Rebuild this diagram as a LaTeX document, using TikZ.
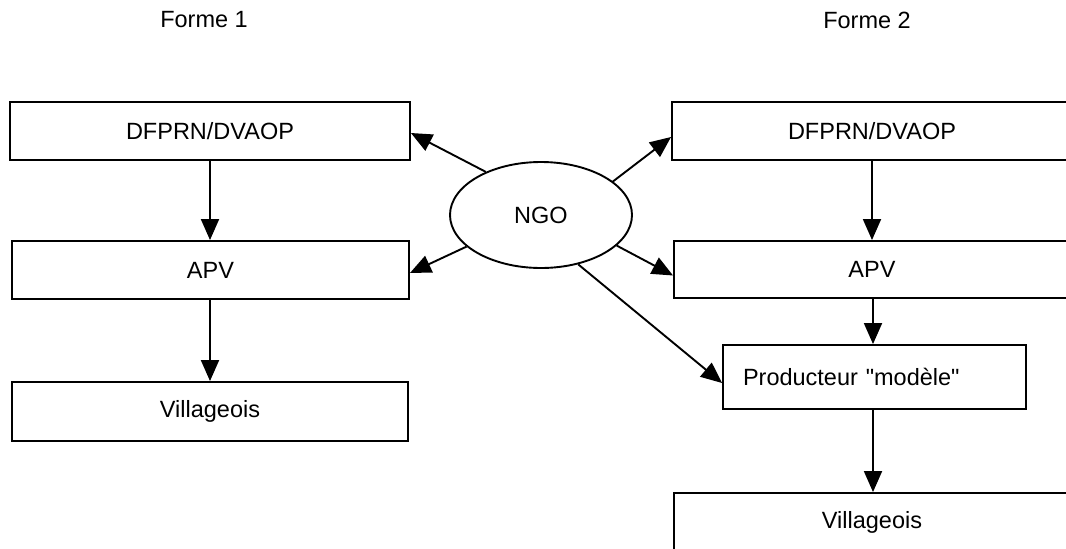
\documentclass[tikz,border=0pt]{standalone}
\usepackage{fontspec}
\setmainfont{Liberation Sans}[Ligatures=TeXOff]
\usetikzlibrary{arrows.meta,shapes.geometric}
\begin{document}
\begin{tikzpicture}[x=1pt,y=-1pt,
  every node/.style={font=\fontsize{23.5}{28}\selectfont},
  box/.style={draw=black,line width=1.9pt,rectangle,inner sep=0pt},
  oval/.style={draw=black,line width=1.9pt,ellipse,inner sep=0pt,minimum width=182pt,minimum height=106pt},
  arr/.style={line width=1.9pt,-{Triangle[length=21pt,width=18pt]}}]
\useasboundingbox (0,0) rectangle (1066,549);
\clip (0,0) rectangle (1066,549);
\fill[white] (0,0) rectangle (1066,549);
% titles
\node (f1) at (204,20) {Forme 1};
\node (f2) at (867,20) {Forme 2};
% left column
\node[box,minimum width=400pt,minimum height=58pt] (ld) at (210,131) {DFPRN/DVAOP};
\node[box,minimum width=397pt,minimum height=58pt] (la) at (210.5,270) {APV};
\node[box,minimum width=396pt,minimum height=59pt] (lv) at (210,411.5) {Villageois};
% NGO
\node[oval] (ngo) at (541,215) {NGO};
% right column
\node[box,minimum width=400pt,minimum height=58pt] (rd) at (872,131) {DFPRN/DVAOP};
\node[box,minimum width=396pt,minimum height=57pt] (ra) at (872,269.5) {APV};
\node[box,minimum width=303pt,minimum height=64pt,text width=263pt,inner xsep=20pt,align=left] (rp) at (874.5,377) {Producteur "modèle"};
\node[box,minimum width=396pt,minimum height=58pt] (rv) at (872,522) {Villageois};
% vertical arrows
\draw[arr] (ld.south -| 210,0) -- (la.north -| 210,0);
\draw[arr] (la.south -| 210,0) -- (lv.north -| 210,0);
\draw[arr] (rd.south) -- (ra.north);
\draw[arr] (ra.south -| 873,0) -- (rp.north -| 873,0);
\draw[arr] (rp.south -| 873,0) -- (rv.north -| 873,0);
% NGO arrows
\draw[arr] (ngo.142.8) -- ([yshift=-2pt]ld.east);
\draw[arr] (ngo.203.1) -- ([yshift=-3pt]la.east);
\draw[arr] (ngo.25.3) -- ([yshift=-6pt]rd.west);
\draw[arr] (ngo.338.4) -- ([yshift=-6pt]ra.west);
\draw[arr] (ngo.307.4) -- ([yshift=-6pt]rp.west);
\end{tikzpicture}
\end{document}
